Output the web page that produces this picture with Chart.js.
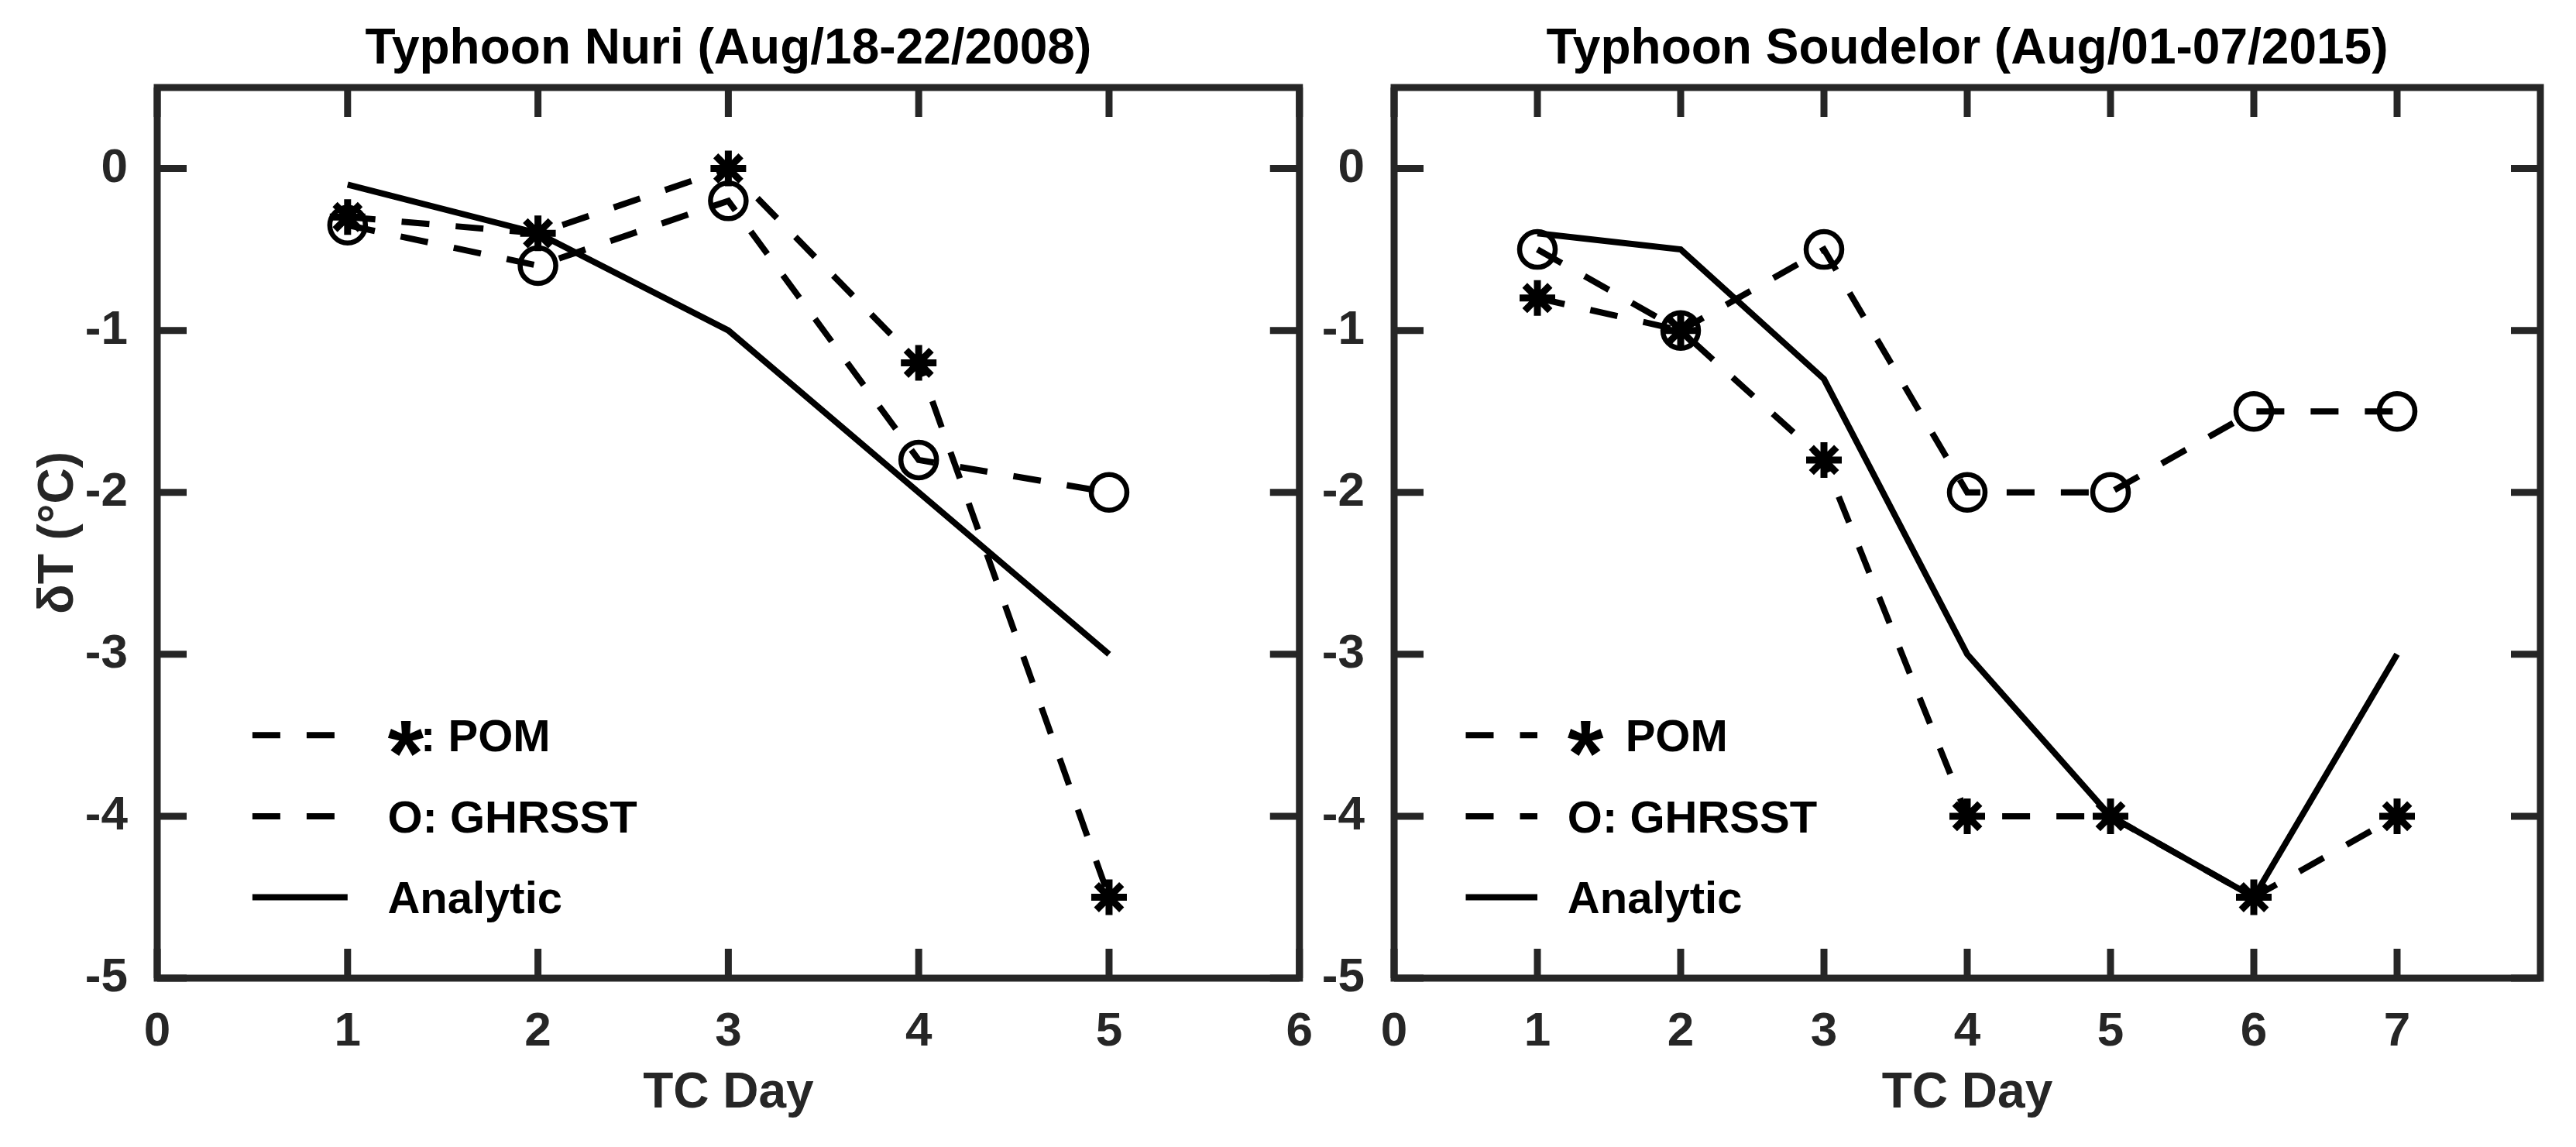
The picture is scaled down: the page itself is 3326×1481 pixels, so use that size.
<!DOCTYPE html>
<html>
<head>
<meta charset="utf-8">
<title>Typhoon Nuri / Soudelor SST cooling</title>
<style>
  html, body { margin: 0; padding: 0; background: #fff; }
  body { width: 3326px; height: 1481px; position: relative; overflow: hidden; }
  canvas { position: absolute; top: 0; }
  #nuriChart { left: 0; }
  #soudelorChart { left: 1700px; }
</style>
</head>
<body>
<canvas id="nuriChart" width="1720" height="1481"></canvas>
<canvas id="soudelorChart" width="1626" height="1481"></canvas>

<script src="https://cdn.jsdelivr.net/npm/chart.js"></script>
<script>
  // Typhoon Nuri (Aug/18-22/2008)
  const nuriDays = [1, 2, 3, 4, 5];
  const nuriPom = [-0.3, -0.4, 0.0, -1.2, -4.5];
  const nuriGhrsst = [-0.35, -0.6, -0.2, -1.8, -2.0];
  const nuriAnalytic = [-0.1, -0.4, -1.0, -2.0, -3.0];

  // Typhoon Soudelor (Aug/01-07/2015)
  const soudelorDays = [1, 2, 3, 4, 5, 6, 7];
  const soudelorPom = [-0.8, -1.0, -1.8, -4.0, -4.0, -4.5, -4.0];
  const soudelorGhrsst = [-0.5, -1.0, -0.5, -2.0, -2.0, -1.5, -1.5];
  const soudelorAnalytic = [-0.4, -0.5, -1.3, -3.0, -4.0, -4.5, -3.0];

  // axis ticks
  const yTicks = [-5, -4, -3, -2, -1, 0];
  const nuriXTicks = [0, 1, 2, 3, 4, 5, 6];
  const soudelorXTicks = [0, 1, 2, 3, 4, 5, 6, 7];

  // legend rows sit at these dT values, like the matlab legend did
  const legendRows = [-3.5, -4.0, -4.5];

  const FAMILY = '"Liberation Sans", Arial, Helvetica, sans-serif';
  const AXIS_COLOR = '#262626';
  const DASH = [36, 34];
  const tickFont = { family: FAMILY, size: 62, weight: 'bold' };
  const labelFont = { family: FAMILY, size: 64, weight: 'bold' };

  const points = (days, values) => days.map((d, i) => ({ x: d, y: values[i] }));

  // box + inward ticks on all four sides
  const axesFrame = {
    id: 'axesFrame',
    afterDraw(chart) {
      const { ctx, chartArea: a, scales: { x, y } } = chart;
      const len = 38;
      ctx.save();
      ctx.strokeStyle = AXIS_COLOR;
      ctx.lineWidth = 9;
      ctx.beginPath();
      x.ticks.forEach(t => {
        const px = x.getPixelForValue(t.value);
        ctx.moveTo(px, a.bottom); ctx.lineTo(px, a.bottom - len);
        ctx.moveTo(px, a.top); ctx.lineTo(px, a.top + len);
      });
      y.ticks.forEach(t => {
        const py = y.getPixelForValue(t.value);
        ctx.moveTo(a.left, py); ctx.lineTo(a.left + len, py);
        ctx.moveTo(a.right, py); ctx.lineTo(a.right - len, py);
      });
      ctx.stroke();
      ctx.strokeRect(a.left, a.top, a.right - a.left, a.bottom - a.top);
      ctx.restore();
    }
  };

  // title centred over the axes box, not over the canvas
  const panelTitle = {
    id: 'panelTitle',
    afterDraw(chart, args, opts) {
      const { ctx, chartArea: a } = chart;
      ctx.save();
      ctx.font = `bold 64px ${FAMILY}`;
      ctx.fillStyle = '#000';
      ctx.textAlign = 'center';
      ctx.textBaseline = 'alphabetic';
      ctx.fillText(opts.text, (a.left + a.right) / 2, a.top - 31);
      ctx.restore();
    }
  };

  // legend without box: line sample, then text (big asterisk for POM)
  const lineLegend = {
    id: 'lineLegend',
    afterDraw(chart, args, opts) {
      const { ctx, scales: { x, y } } = chart;
      const x0 = x.getPixelForValue(0.5);
      const x1 = x.getPixelForValue(1.0);
      const tx = x.getPixelForValue(1.21);
      opts.items.forEach((item, i) => {
        const py = y.getPixelForValue(legendRows[i]);
        ctx.save();
        ctx.strokeStyle = '#000';
        ctx.lineWidth = 8;
        ctx.lineCap = 'butt';
        ctx.setLineDash(item.dash);
        ctx.beginPath();
        ctx.moveTo(x0, py);
        ctx.lineTo(x1, py);
        ctx.stroke();
        ctx.restore();

        ctx.save();
        ctx.fillStyle = '#000';
        ctx.textAlign = 'left';
        ctx.textBaseline = 'alphabetic';
        const base = py + 21;
        let cx = tx;
        if (item.star) {
          ctx.font = `bold 120px ${FAMILY}`;
          ctx.fillText('*', cx, base + 44);
          cx += ctx.measureText('*').width + (item.gap || 0);
        }
        ctx.font = `bold 58px ${FAMILY}`;
        ctx.fillText(item.text, cx, base);
        ctx.restore();
      });
    }
  };

  function makeChart(id, cfg) {
    const ctx = document.getElementById(id).getContext('2d');
    return new Chart(ctx, {
      type: 'line',
      data: {
        datasets: [
          {
            label: 'POM',
            data: points(cfg.days, cfg.pom),
            borderColor: '#000',
            borderWidth: 8,
            borderDash: DASH,
            pointStyle: 'star',
            pointRadius: 23,
            pointBorderWidth: 9,
            pointBorderColor: '#000',
            pointBackgroundColor: 'rgba(0,0,0,0)',
            tension: 0
          },
          {
            label: 'GHRSST',
            data: points(cfg.days, cfg.ghrsst),
            borderColor: '#000',
            borderWidth: 8,
            borderDash: DASH,
            pointStyle: 'circle',
            pointRadius: 23,
            pointBorderWidth: 6.5,
            pointBorderColor: '#000',
            pointBackgroundColor: 'rgba(0,0,0,0)',
            tension: 0
          },
          {
            label: 'Analytic',
            data: points(cfg.days, cfg.analytic),
            borderColor: '#000',
            borderWidth: 8,
            pointRadius: 0,
            tension: 0
          }
        ]
      },
      options: {
        responsive: false,
        animation: false,
        devicePixelRatio: 1,
        events: [],
        layout: { padding: { top: 113, right: cfg.padRight, bottom: 0, left: 0 } },
        plugins: {
          legend: { display: false },
          tooltip: { enabled: false },
          panelTitle: { text: cfg.title },
          lineLegend: { items: cfg.legend }
        },
        scales: {
          x: {
            type: 'linear',
            min: 0,
            max: cfg.xMax,
            afterBuildTicks: s => { s.ticks = cfg.xTicks.map(v => ({ value: v })); },
            afterFit: s => { s.height = 218; },
            grid: { display: false },
            border: { display: false },
            ticks: { color: AXIS_COLOR, font: tickFont, padding: 25, autoSkip: false, maxRotation: 0 },
            title: { display: true, text: 'TC Day', color: AXIS_COLOR, font: labelFont, padding: { top: 0, bottom: 30 } }
          },
          y: {
            type: 'linear',
            min: -5,
            max: 0.5,
            afterBuildTicks: s => { s.ticks = yTicks.map(v => ({ value: v })); },
            afterFit: s => { s.width = cfg.yWidth; },
            grid: { display: false },
            border: { display: false },
            ticks: { color: AXIS_COLOR, font: tickFont, padding: 30 },
            title: { display: cfg.yTitle, text: 'δT (°C)', color: AXIS_COLOR, font: labelFont, padding: { top: 38, bottom: 0 } }
          }
        }
      },
      plugins: [axesFrame, panelTitle, lineLegend]
    });
  }

  makeChart('nuriChart', {
    title: 'Typhoon Nuri (Aug/18-22/2008)',
    days: nuriDays, pom: nuriPom, ghrsst: nuriGhrsst, analytic: nuriAnalytic,
    xMax: 6, xTicks: nuriXTicks,
    yWidth: 203, padRight: 31, yTitle: true,
    legend: [
      { star: true, gap: -4, text: ': POM', dash: DASH },
      { text: 'O: GHRSST', dash: DASH },
      { text: 'Analytic', dash: [] }
    ]
  });

  makeChart('soudelorChart', {
    title: 'Typhoon Soudelor (Aug/01-07/2015)',
    days: soudelorDays, pom: soudelorPom, ghrsst: soudelorGhrsst, analytic: soudelorAnalytic,
    xMax: 8, xTicks: soudelorXTicks,
    yWidth: 100, padRight: 46, yTitle: false,
    legend: [
      { star: true, gap: 12, text: ' POM', dash: DASH },
      { text: 'O: GHRSST', dash: DASH },
      { text: 'Analytic', dash: [] }
    ]
  });
</script>
</body>
</html>
